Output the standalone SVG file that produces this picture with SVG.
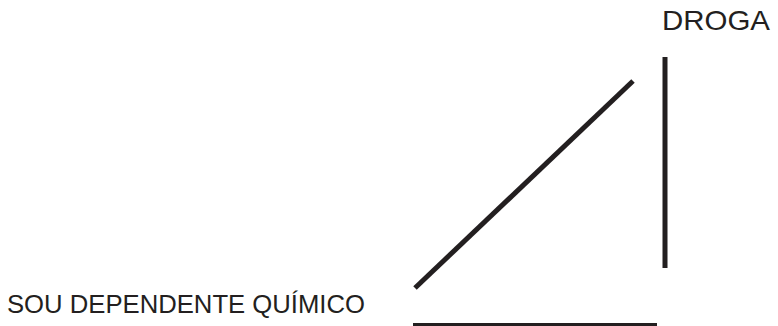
<svg xmlns="http://www.w3.org/2000/svg" width="778" height="326" viewBox="0 0 778 326">
<style>
.lbl{font-family:"Liberation Sans",Arial,sans-serif;fill:#231f20}
.ln{stroke:#231f20;stroke-width:5;fill:none}
</style>
<rect width="778" height="326" fill="#fff"/>
<g id="droga"><text class="lbl" x="662" y="30" font-size="27.5" textLength="108" lengthAdjust="spacingAndGlyphs">DROGA</text></g>
<g id="dependente"><text class="lbl" x="7" y="313" font-size="26.5" textLength="358" lengthAdjust="spacingAndGlyphs">SOU DEPENDENTE QUÍMICO</text></g>
<g id="connectors">
<line class="ln" x1="415" y1="288" x2="633" y2="81"/>
<line class="ln" x1="665" y1="57" x2="665" y2="268"/>
<line class="ln" x1="413" y1="325.5" x2="657" y2="325.5"/>
</g>
</svg>
